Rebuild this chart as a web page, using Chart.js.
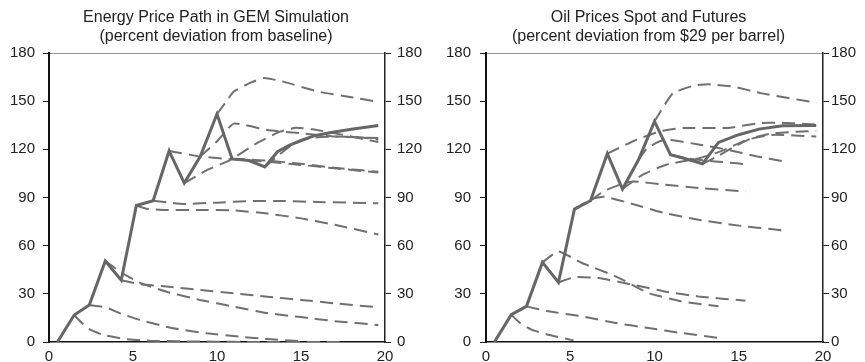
<!DOCTYPE html>
<html>
<head>
<meta charset="utf-8">
<script src="https://cdn.jsdelivr.net/npm/chart.js@4"></script>
<style>
  html, body { margin: 0; padding: 0; background: #fff; }
  .wrap { display: flex; width: 865px; height: 362px; }
  canvas { display: block; }
</style>
</head>
<body>
<div class="wrap">
  <canvas id="gemChart" width="432" height="362"></canvas>
  <canvas id="oilChart" width="433" height="362"></canvas>
</div>
<script>
// x ticks / y ticks
const xTicks = [0, 5, 10, 15, 20];
const yTicks = [0, 30, 60, 90, 120, 150, 180];

// left panel: GEM simulation, spot path + expected paths ([quarter, pct])
const gemSpot = [[0.5,0],[1.5,16.8],[2.4,23],[3.35,50.5],[4.3,38.5],[5.2,85],[6.2,88],[7.15,119],[8.05,99],[9,115.5],[10,142],[10.9,114],[11.9,113],[12.85,109],[13.6,118.5],[14.3,122.5],[15,125.5],[15.8,128.5],[16.8,130.5],[18,132.5],[19.6,134.8]];
const gem1 = [[1.5,16.8],[1.9,12.5],[2.4,8],[3.2,4.5],[4.4,2],[6,0.8],[8,0.4],[10,0.2],[12,0],[17.3,0]];
const gem2 = [[2.4,23],[3.4,21.5],[4.2,18],[5.4,13.7],[7.4,8.5],[9.4,5.4],[11.4,3.3],[13,1.8],[15,0.5]];
const gem3 = [[3.35,50.5],[4.2,44],[5.4,37],[7,31.3],[9,26.2],[11,22],[13,18],[15,15.5],[17,13],[19.6,10.6]];
const gem4 = [[4.3,38.5],[5.4,36],[7,34.5],[9,32.4],[11,30.3],[13,28.2],[15,26.2],[17,24.1],[19.6,21.6]];
const gem5 = [[5.2,85],[5.8,83],[7,82.2],[9,82.2],[11,82],[13,80],[15,77],[17,73],[19.6,67]];
const gem6 = [[6.2,88],[7,87],[8,86],[10,86.8],[12,87.8],[14,87.8],[16,87.2],[19.6,86.4]];
const gem7 = [[7.15,119],[9,115.5],[11,113.8],[13,112.3],[15,110.3],[17,108.2],[19.6,105.5]];
const gem8 = [[8.05,99],[9.4,107],[10.8,113.5],[12.4,124],[13.75,131],[14.7,133.5],[15.7,132.5],[17.5,129],[19.6,124.5]];
const gem9 = [[9,115.5],[10,125],[11,136],[13,132],[15,130],[17,128],[19.6,127]];
const gem10 = [[10,142],[10.5,149],[11,156],[12,161.5],[12.8,164.5],[14,162],[16,156],[18,152.5],[19.6,149.5]];
const gem11 = [[10.9,114],[12,113.5],[13,113],[15,111],[17,108.5],[19.6,106]];
const gem12 = [[12.85,109],[13.75,117],[14.5,123],[15.5,127],[17,128],[18.5,127.5],[19.6,126]];

// right panel: oil spot + futures curves
const oilSpot = [[0.5,0],[1.5,17],[2.4,22.2],[3.35,49.6],[4.3,37.1],[5.25,82.8],[6.2,88],[7.2,117.3],[8.1,95.3],[9.05,113.5],[10,137.4],[10.95,116.7],[11.9,114],[12.85,111],[13.8,124.3],[15,129.1],[16.2,132.6],[17.6,134.7],[19.6,134.9]];
const oil1 = [[1.5,17],[2,12],[2.7,7.7],[3.7,4.5],[5.2,1]];
const oil2 = [[2.4,22.2],[3.7,19.1],[5.7,16],[7.7,11.8],[9.65,8.7],[11.6,5.6],[13.8,2.5]];
const oil3 = [[3.35,49.6],[4.3,56.4],[5.7,49.2],[7.7,40.9],[9.65,30.5],[11.6,25.3],[13.8,22.2]];
const oil4 = [[4.3,37.1],[5.3,40.5],[6.7,39.8],[8.7,35.7],[10.6,31.5],[12.6,28.4],[15.4,25.7]];
const oil5 = [[5.25,82.8],[6.3,89],[7,90.5],[8.7,86],[10.6,80.3],[12.6,76.2],[14.6,73],[17.6,69.5]];
const oil6 = [[6.2,88],[7,94],[7.95,98],[8.7,100],[10.6,98],[12.6,95.9],[15.4,93.8]];
const oil7 = [[7.2,117.3],[8.7,124.9],[10.3,131.2],[11.7,133.3],[14.3,133.3],[16.3,136.4],[17.9,136.4],[19.6,135.5]];
const oil8 = [[8.1,95.3],[9.3,104.2],[10.7,110.4],[12.7,114.6],[14,119],[15.5,126],[17,129],[19.6,128]];
const oil9 = [[9.05,113.5],[9.6,121],[10.6,126],[12.7,122.9],[14.3,119.8],[16.1,115.6],[17.7,112.5]];
const oil10 = [[10,137.4],[10.5,146],[11.1,155],[12.3,159.6],[13.2,160.5],[14.7,159],[16.3,155],[19.6,149]];
const oil11 = [[10.95,116.7],[11.9,114.5],[13,113],[14.2,112],[15.6,110.5]];
const oil12 = [[12.85,111],[13.8,116],[14.8,122],[15.8,127],[17,130],[18.5,131],[19.6,131.5]];

const FONT = 'Liberation Sans, Arial, Helvetica, sans-serif';

function toXY(arr) {
  return arr.map(p => ({x: p[0], y: p[1]}));
}

function spotSet(arr) {
  return {
    data: toXY(arr),
    borderColor: '#666',
    borderWidth: 3,
    pointRadius: 0,
    borderJoinStyle: 'miter',
    tension: 0
  };
}

function pathSet(arr) {
  return {
    data: toXY(arr),
    borderColor: '#707070',
    borderWidth: 2,
    borderDash: [13, 7],
    pointRadius: 0,
    tension: 0.15
  };
}

function makeChart(id, title, spot, paths, dims) {
  const yCommon = {
    type: 'linear',
    min: 0,
    max: 180,
    afterBuildTicks: (s) => { s.ticks = yTicks.map(v => ({value: v})); },
    grid: { drawOnChartArea: false, drawTicks: true, tickLength: 6, color: '#222' },
    ticks: { font: { size: 15, family: FONT }, color: '#222' }
  };
  return new Chart(document.getElementById(id), {
    type: 'line',
    data: {
      datasets: [spotSet(spot)].concat(paths.map(pathSet))
    },
    options: {
      responsive: false,
      animation: false,
      layout: { padding: 0 },
      plugins: {
        legend: { display: false },
        tooltip: { enabled: false },
        title: {
          display: true,
          text: title,
          color: '#222',
          font: { size: 16, family: FONT, weight: 'normal', lineHeight: 1.2 },
          padding: { top: 7.5, bottom: 7.1 }
        }
      },
      scales: {
        x: {
          type: 'linear',
          min: 0,
          max: 20,
          afterBuildTicks: (s) => { s.ticks = xTicks.map(v => ({value: v})); },
          afterFit: (s) => { s.height = 20; },
          grid: { display: false, drawTicks: false },
          border: { color: '#111', width: 1.5 },
          ticks: { font: { size: 15, family: FONT }, color: '#222', padding: 6, maxRotation: 0 }
        },
        xTop: {
          type: 'linear',
          position: 'top',
          min: 0,
          max: 20,
          afterFit: (s) => { s.height = 0; },
          grid: { display: false, drawTicks: false },
          border: { color: '#999', width: 1 },
          ticks: { display: false }
        },
        y: Object.assign({}, yCommon, {
          position: 'left',
          afterFit: (s) => { s.width = dims.left; },
          border: { color: '#111', width: 2 },
          ticks: Object.assign({}, yCommon.ticks, { padding: dims.lpad })
        }),
        y2: Object.assign({}, yCommon, {
          position: 'right',
          afterFit: (s) => { s.width = dims.right; },
          border: { color: '#222', width: 1.5 },
          ticks: Object.assign({}, yCommon.ticks, { padding: dims.rpad })
        })
      }
    }
  });
}

makeChart('gemChart',
  ['Energy Price Path in GEM Simulation', '(percent deviation from baseline)'],
  gemSpot,
  [gem1, gem2, gem3, gem4, gem5, gem6, gem7, gem8, gem9, gem10, gem11, gem12],
  { left: 49, right: 47, lpad: 8, rpad: 6 });

makeChart('oilChart',
  ['Oil Prices Spot and Futures', '(percent deviation from $29 per barrel)'],
  oilSpot,
  [oil1, oil2, oil3, oil4, oil5, oil6, oil7, oil8, oil9, oil10, oil11, oil12],
  { left: 54, right: 42, lpad: 9, rpad: 2 });
</script>
</body>
</html>
